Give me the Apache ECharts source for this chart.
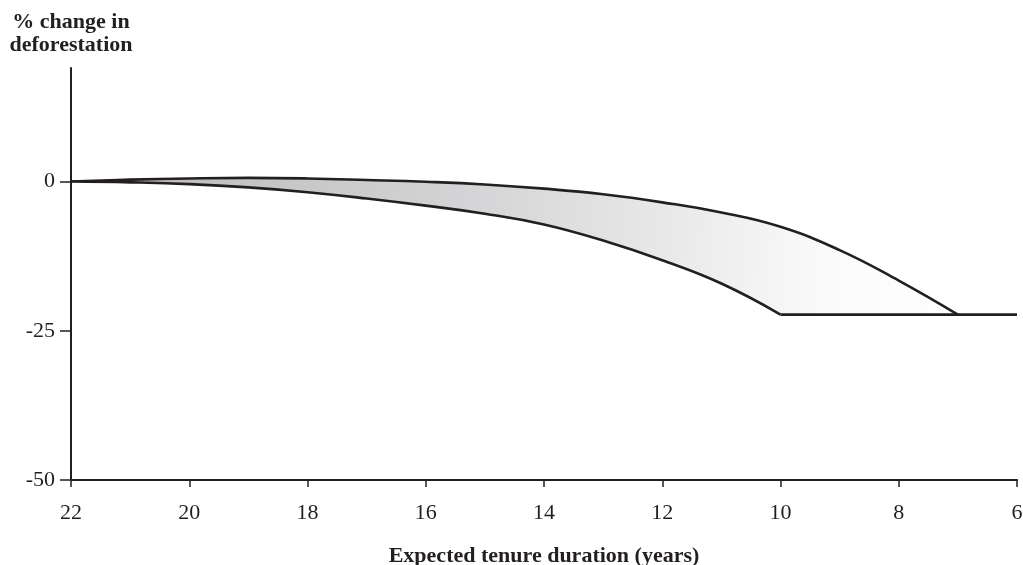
<!DOCTYPE html>
<html>
<head>
<meta charset="utf-8">
<script src="https://cdn.jsdelivr.net/npm/echarts@6/dist/echarts.min.js"></script>
<style>html,body{margin:0;padding:0;background:#fff}#c{width:1023px;height:565px}</style>
</head>
<body>
<div id="c"></div>
<script>
// Upper boundary of the band (x = expected tenure, y = % change)
const upperX = [22,21,20,19,18,17,16,15,14,13,12,11,10,9,8,7];
const upperY = [0,0.3,0.5,0.6,0.5,0.25,-0.05,-0.5,-1.2,-2.15,-3.5,-5.2,-7.6,-11.5,-16.6,-22.3];
// Lower boundary of the band
const lowerX = [22,21,20,19,18,17,16,15,14,13,12,11,10];
const lowerY = [0,-0.15,-0.45,-1.0,-1.8,-2.85,-4.05,-5.4,-7.2,-9.9,-13.2,-17.1,-22.3];
// Flat floor
const floorX = [10,6];
const floorY = [-22.3,-22.3];
const floorLevel = -22.3;
// Tick values
const xTicks = [22,20,18,16,14,12,10,8,6];
const yTicks = [-50,-25,0];

const zip = (xs, ys) => xs.map((x, i) => [x, ys[i]]);
const ink = '#231f20';
const font = 'Liberation Serif';

const chart = echarts.init(document.getElementById('c'));
chart.setOption({
  animation: false,
  backgroundColor: '#fff',
  grid: {left: 71, right: 6, top: 68, bottom: 85, outerBoundsMode: 'none', containLabel: false},
  xAxis: {
    type: 'value', min: 6, max: 22, interval: 2, inverse: true, z: 10,
    name: 'Expected tenure duration (years)', nameLocation: 'middle', nameGap: 65,
    nameTextStyle: {fontFamily: font, fontWeight: 'bold', fontSize: 22, color: ink},
    axisLine: {onZero: false, lineStyle: {color: ink, width: 2}},
    axisTick: {length: 7, lineStyle: {color: ink, width: 1.5}, customValues: xTicks},
    axisLabel: {fontFamily: font, fontSize: 22, color: ink, margin: 22, customValues: xTicks},
    splitLine: {show: false}
  },
  yAxis: {
    type: 'value', min: -50, max: 19, interval: 25, z: 10,
    name: '% change in\ndeforestation', nameLocation: 'end', nameGap: 11,
    nameTextStyle: {fontFamily: font, fontWeight: 'bold', fontSize: 22, color: ink, lineHeight: 23, align: 'center'},
    axisLine: {show: true, onZero: false, lineStyle: {color: ink, width: 2}},
    axisTick: {show: true, length: 11, lineStyle: {color: ink, width: 1.5}, customValues: yTicks},
    axisLabel: {fontFamily: font, fontSize: 22, color: ink, margin: 16, customValues: yTicks},
    splitLine: {show: false}
  },
  series: [
    {
      type: 'line', data: zip(upperX, upperY), smooth: 0.45, symbol: 'none', z: 2,
      lineStyle: {color: ink, width: 2.6},
      areaStyle: {
        origin: floorLevel, opacity: 1,
        color: new echarts.graphic.LinearGradient(0, 0, 1, 0.3, [
          {offset: 0, color: '#b8b8b8'},
          {offset: 0.45, color: '#d4d4d6'},
          {offset: 0.7, color: '#ebebec'},
          {offset: 0.85, color: '#fafafa'},
          {offset: 1, color: '#ffffff'}
        ])
      }
    },
    {
      type: 'line', data: zip(lowerX, lowerY), smooth: 0.45, symbol: 'none', z: 3,
      lineStyle: {color: ink, width: 2.6},
      areaStyle: {origin: floorLevel - 1.5, color: '#ffffff', opacity: 1}
    },
    {
      type: 'line', data: zip(floorX, floorY), symbol: 'none', z: 4,
      lineStyle: {color: ink, width: 2.6}
    }
  ]
});
</script>
</body>
</html>
